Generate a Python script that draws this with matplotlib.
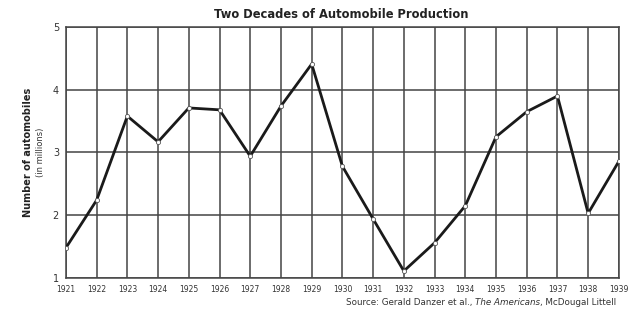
import matplotlib
matplotlib.use('Agg')
import matplotlib.pyplot as plt

years = list(range(1921, 1940))
production = [1.48, 2.24, 3.58, 3.17, 3.71, 3.68, 2.94, 3.74, 4.41, 2.78,
              1.94, 1.11, 1.56, 2.15, 3.25, 3.65, 3.90, 2.03, 2.86]
yticks = [1, 2, 3, 4, 5]

fig = plt.figure(figsize=(6.4, 3.18), dpi=100)
ax = fig.add_axes([0.103, 0.126, 0.864, 0.789])

ax.plot(years, production, color='#1a1a1a', lw=2, marker='o', ms=3,
        mfc='white', mec='#555555', mew=0.6, zorder=3)

ax.set_xlim(1921, 1939)
ax.set_ylim(1, 5)
ax.set_xticks(years)
ax.set_xticklabels([str(y) for y in years], fontsize=5.5, color='#333333')
ax.set_yticks(yticks)
ax.set_yticklabels([str(v) for v in yticks], fontsize=7, color='#333333')
ax.tick_params(axis='y', length=0, pad=5)
ax.tick_params(axis='x', length=0, pad=5)
ax.grid(True, color='#444444', lw=1.1)
for s in ax.spines.values():
    s.set_color('#444444')
    s.set_linewidth(1.1)

fig.text(0.533, 0.955, 'Two Decades of Automobile Production', ha='center',
         va='center', fontsize=8.3, fontweight='bold', color='#222222')
fig.text(0.044, 0.52, 'Number of automobiles', rotation=90, ha='center',
         va='center', fontsize=7, fontweight='bold', color='#222222')
fig.text(0.063, 0.52, '(in millions)', rotation=90, ha='center',
         va='center', fontsize=6, color='#333333')

t1 = fig.text(0.54, 0.042, 'Source: Gerald Danzer et al., ', fontsize=6.3,
              color='#333333', va='baseline')
t2 = ax.annotate('The Americans', xy=(1, 0), xycoords=t1, fontsize=6.3,
                 style='italic', color='#333333', va='bottom')
t3 = ax.annotate(', McDougal Littell', xy=(1, 0), xycoords=t2, fontsize=6.3,
                 color='#333333', va='bottom')

fig.savefig('out.png', dpi=100)
